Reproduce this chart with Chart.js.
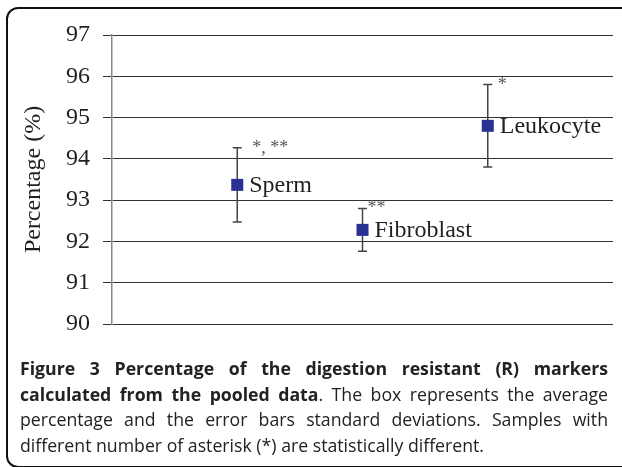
<!DOCTYPE html>
<html>
<head>
<meta charset="utf-8">
<script src="https://cdn.jsdelivr.net/npm/chart.js@4"></script>
<style>
  html, body { margin: 0; padding: 0; background: #fff; }
  body { width: 622px; height: 467px; position: relative; overflow: hidden; }
  #frame {
    position: absolute; left: 6px; top: 7px; width: 640px; height: 457px;
    border: 2px solid #111; border-radius: 12px;
  }
  #wrap { position: absolute; left: 0; top: 0; width: 622px; height: 467px; }
  #caption {
    position: absolute; left: 20px; top: 356px; width: 588px;
    font-family: "Open Sans", sans-serif; font-size: 17.7px; line-height: 25.5px;
    color: #222;
  }
  #caption .j { text-align: justify; text-align-last: justify; white-space: nowrap; }
  #caption b { font-weight: 700; }
</style>
</head>
<body>
<div id="frame"></div>
<div id="wrap"><canvas id="chart" width="622" height="467"></canvas></div>
<div id="caption">
  <div class="j"><b>Figure 3 Percentage of the digestion resistant (R) markers</b></div>
  <div class="j"><b>calculated from the pooled data</b>. The box represents the average</div>
  <div class="j">percentage and the error bars standard deviations. Samples with</div>
  <div>different number of asterisk (*) are statistically different.</div>
</div>
<script>
var samples = ['Sperm', 'Fibroblast', 'Leukocyte'];
var xPos = [1, 2, 3];
var means = [93.37, 92.28, 94.80];
var sds = [0.90, 0.52, 1.00];
var stars = ['*, **', '**', '*'];
var yTicks = [90, 91, 92, 93, 94, 95, 96, 97];

var serif = "'Liberation Serif', 'Times New Roman', serif";

var errorBars = {
  id: 'errorBars',
  beforeDatasetsDraw: function(chart) {
    var ctx = chart.ctx, x = chart.scales.x, y = chart.scales.y;
    ctx.save();
    ctx.strokeStyle = '#444';
    ctx.lineWidth = 1.5;
    for (var i = 0; i < means.length; i++) {
      var px = x.getPixelForValue(xPos[i]);
      var top = y.getPixelForValue(means[i] + sds[i]);
      var bot = y.getPixelForValue(means[i] - sds[i]);
      ctx.beginPath();
      ctx.moveTo(px, top); ctx.lineTo(px, bot);
      ctx.moveTo(px - 4.5, top); ctx.lineTo(px + 4.5, top);
      ctx.moveTo(px - 4.5, bot); ctx.lineTo(px + 4.5, bot);
      ctx.stroke();
    }
    ctx.restore();
  },
  afterDatasetsDraw: function(chart) {
    var ctx = chart.ctx, x = chart.scales.x, y = chart.scales.y;
    var starDx = [15, 5, 10];
    ctx.save();
    for (var i = 0; i < means.length; i++) {
      var px = x.getPixelForValue(xPos[i]);
      var py = y.getPixelForValue(means[i]);
      var top = y.getPixelForValue(means[i] + sds[i]);
      ctx.fillStyle = '#231f20';
      ctx.font = '24px ' + serif;
      ctx.textBaseline = 'middle';
      ctx.textAlign = 'left';
      ctx.fillText(samples[i], px + 12, py + 1);
      ctx.fillStyle = '#555';
      ctx.font = '18px ' + serif;
      ctx.textBaseline = 'alphabetic';
      ctx.fillText(stars[i], px + starDx[i], top + 5);
    }
    ctx.restore();
  }
};

new Chart(document.getElementById('chart').getContext('2d'), {
  type: 'scatter',
  data: {
    datasets: [{
      data: xPos.map(function(v, i) { return { x: v, y: means[i] }; }),
      pointStyle: 'rect',
      pointRadius: 8.5,
      pointHoverRadius: 8.5,
      backgroundColor: '#2b3192',
      borderColor: '#2b3192',
      borderWidth: 0
    }]
  },
  options: {
    responsive: false,
    animation: false,
    layout: { padding: { left: 16, right: 9, top: 35, bottom: 143 } },
    plugins: { legend: { display: false }, tooltip: { enabled: false } },
    scales: {
      x: { type: 'linear', display: false, min: 0, max: 4 },
      y: {
        min: 90, max: 97,
        afterBuildTicks: function(scale) {
          scale.ticks = yTicks.map(function(v) { return { value: v }; });
        },
        afterFit: function(scale) { scale.width = 96; },
        grid: { color: '#333', lineWidth: 1, tickLength: 9, tickColor: '#333' },
        border: { color: '#888', width: 1.5 },
        ticks: { padding: 13, color: '#231f20', font: { family: serif, size: 24 } },
        title: {
          display: true, text: 'Percentage (%)', color: '#231f20',
          font: { family: serif, size: 24 }, padding: { top: 3, bottom: 0 }
        }
      }
    }
  },
  plugins: [errorBars]
});
</script>
</body>
</html>
